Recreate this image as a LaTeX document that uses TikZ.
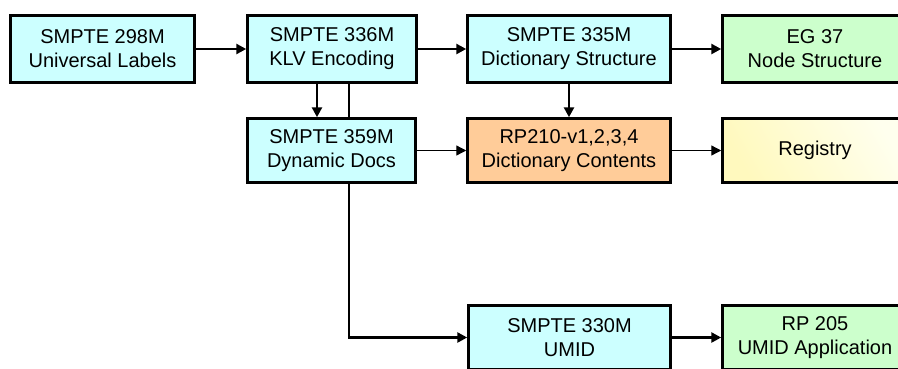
\documentclass[tikz,border=0pt]{standalone}
\usepackage{fontspec}
\setmainfont{Liberation Sans}
\usetikzlibrary{arrows.meta,backgrounds}

\definecolor{stdcyan}{RGB}{204,255,255}
\definecolor{stdgreen}{RGB}{204,255,204}
\definecolor{stdorange}{RGB}{255,204,153}
\definecolor{stdyellow}{RGB}{255,249,190}
\definecolor{stdpale}{RGB}{255,255,238}

\begin{document}
\begin{tikzpicture}[x=1pt,y=-1pt,
    doc/.style={draw,line width=2.5pt,rectangle,align=center,inner sep=0pt,
      font=\fontsize{20}{24}\selectfont,minimum height=64pt},
    link/.style={line width=2.5pt,-{Triangle[length=10pt,width=10pt]}},
    thinlink/.style={line width=1.3pt,-{Triangle[length=10pt,width=10pt]}}]
  \useasboundingbox (0,0) rectangle (898,368);
  \clip (0,0) rectangle (898,368);

  % top row
  \node[doc,fill=stdcyan,minimum width=184pt,minimum height=67pt] (ul) at (102.5,49) {SMPTE 298M\\Universal Labels};
  \node[doc,fill=stdcyan,minimum width=169pt,minimum height=67pt] (klv) at (332,49) {SMPTE 336M\\KLV Encoding};
  \node[doc,fill=stdcyan,minimum width=203pt,minimum height=67pt] (dict) at (569,49) {SMPTE 335M\\Dictionary Structure};
  \node[doc,fill=stdgreen,minimum width=185pt,minimum height=67pt] (node) at (815,49) {EG 37\\Node Structure};

  % second row
  \node[doc,fill=stdcyan,minimum width=168pt] (dyn) at (331.5,150.5) {SMPTE 359M\\Dynamic Docs};
  \node[doc,fill=stdorange,minimum width=203pt] (cont) at (569,150.5) {RP210-v1,2,3,4\\Dictionary Contents};
  \node[doc,left color=stdyellow,right color=stdpale,shading angle=120,minimum width=185pt] (reg) at (815,150.5) {Registry};

  % bottom row
  \node[doc,fill=stdcyan,minimum width=202pt] (umid) at (569.5,337.5) {SMPTE 330M\\UMID};
  \node[doc,fill=stdgreen,minimum width=185pt] (app) at (815,337.5) {RP 205\\UMID Application};

  \draw[link] (ul) -- (klv);
  \draw[link] (klv) -- (dict);
  \draw[link] (dict) -- (node);
  \draw[link] (dict) -- (cont);
  \draw[link] ([xshift=-15pt]klv.south) -- ([xshift=-15pt]klv.south |- dyn.north);
  \draw[thinlink] (dyn) -- (cont);
  \draw[thinlink] (cont) -- (reg);
  \draw[link] (umid) -- (app);
  % runs behind the 359M box
  \begin{pgfonlayer}{background}
    \draw[link] ([xshift=17pt]klv.south) |- (umid.west);
  \end{pgfonlayer}
\end{tikzpicture}
\end{document}
